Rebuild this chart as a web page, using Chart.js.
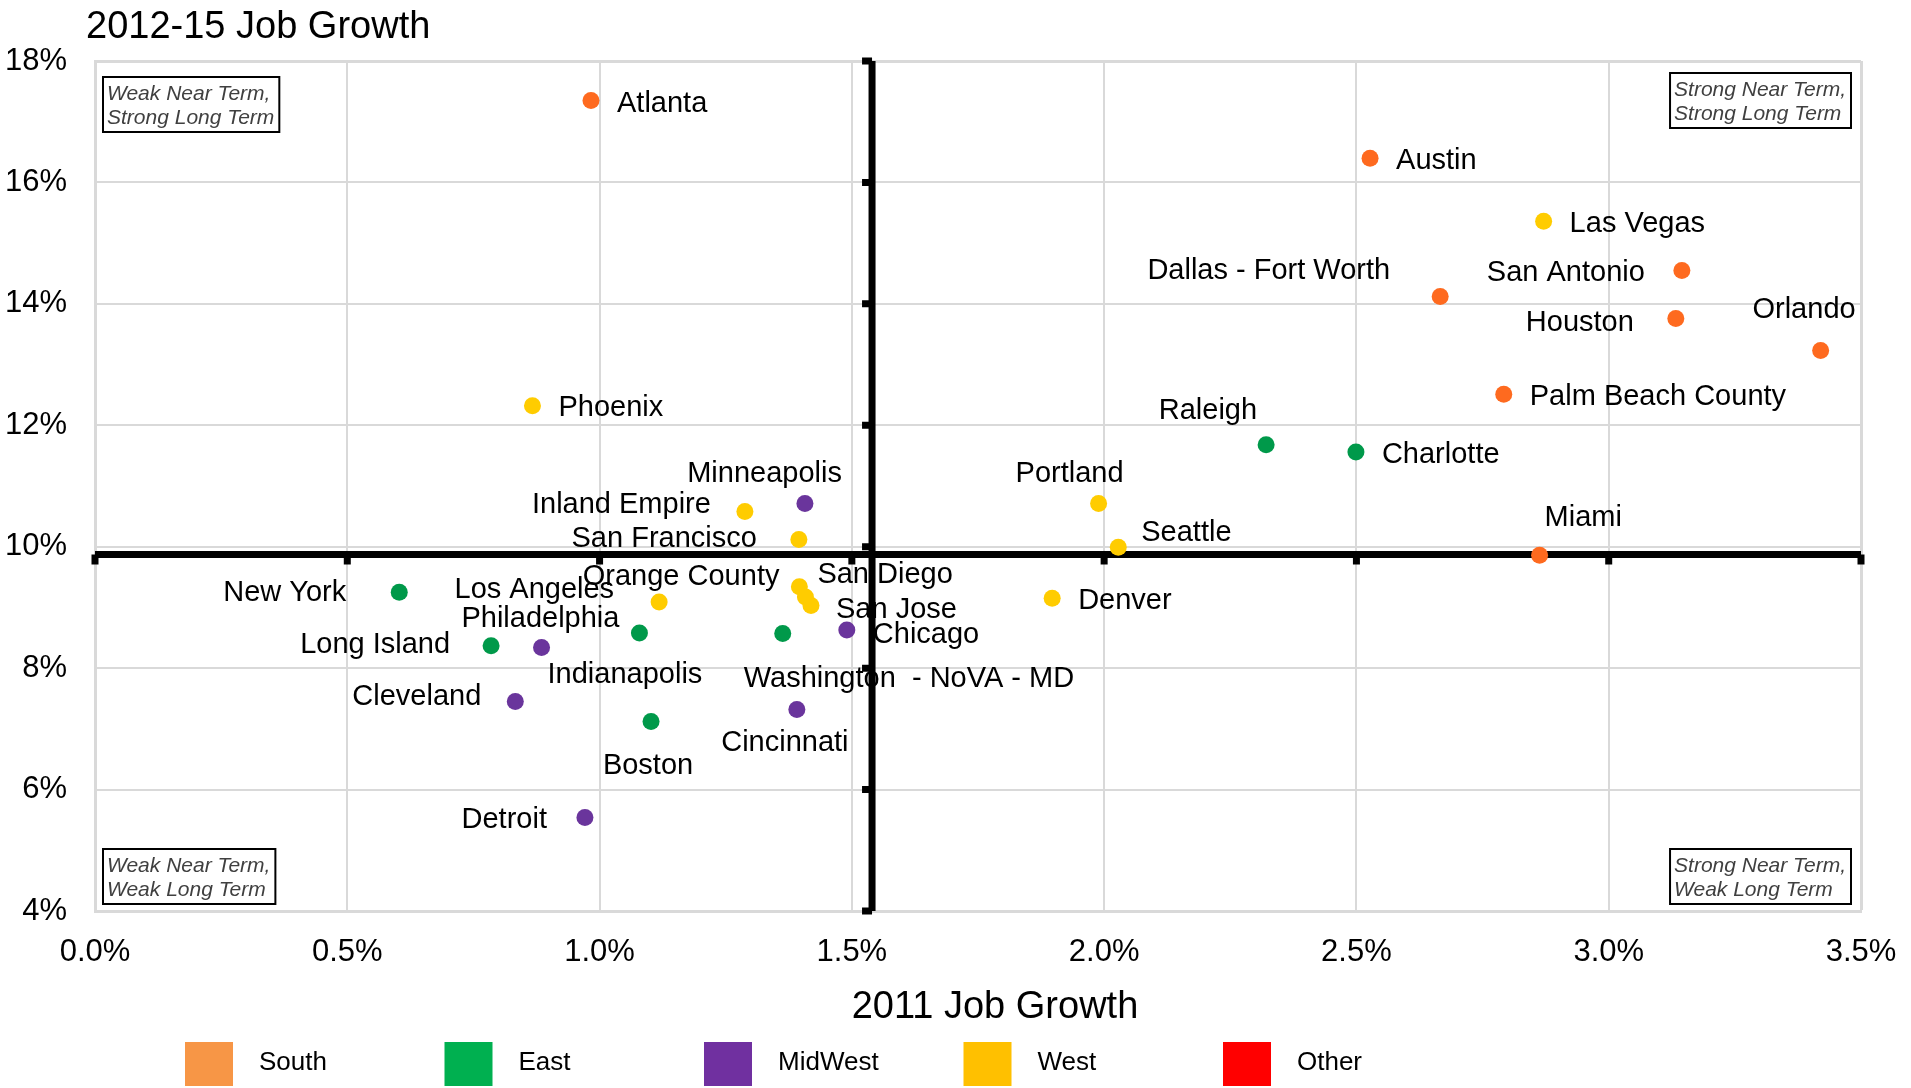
<!DOCTYPE html>
<html>
<head>
  <meta charset="utf-8">
  <title>Job Growth by Metro</title>
  <script src="https://cdn.jsdelivr.net/npm/chart.js"></script>
  <style>
    body { margin: 0; background: #fff; }
    canvas { display: block; }
  </style>
</head>
<body>
  <canvas id="growth" width="1911" height="1088"></canvas>

  <script>
    // metro areas, their region and job growth (in %)
    const cities = [
      'Atlanta', 'Austin', 'Las Vegas', 'San Antonio', 'Dallas - Fort Worth', 'Houston',
      'Orlando', 'Palm Beach County', 'Phoenix', 'Raleigh', 'Charlotte', 'Portland',
      'Minneapolis', 'Inland Empire', 'San Francisco', 'Seattle', 'Miami', 'New York',
      'Los Angeles', 'San Diego', 'Orange County', 'San Jose', 'Denver', 'Philadelphia',
      'Long Island', 'Indianapolis', 'Cleveland', 'Boston', 'Washington  - NoVA - MD',
      'Chicago', 'Cincinnati', 'Detroit'
    ];
    const cityRegion = [
      'South', 'South', 'West', 'South', 'South', 'South',
      'South', 'South', 'West', 'East', 'East', 'West',
      'MidWest', 'West', 'West', 'West', 'South', 'East',
      'West', 'West', 'West', 'West', 'West', 'East',
      'East', 'MidWest', 'MidWest', 'East', 'East',
      'MidWest', 'MidWest', 'MidWest'
    ];
    const growth2011 = [
      0.983, 2.527, 2.871, 3.145, 2.666, 3.133,
      3.420, 2.792, 0.867, 2.321, 2.499, 1.989,
      1.407, 1.288, 1.395, 2.028, 2.863, 0.603,
      1.118, 1.396, 1.408, 1.419, 1.897, 1.079,
      0.785, 0.885, 0.833, 1.102, 1.363,
      1.490, 1.391, 0.971
    ];
    const growth1215 = [
      17.35, 16.40, 15.36, 14.55, 14.12, 13.76,
      13.23, 12.51, 12.32, 11.68, 11.56, 10.71,
      10.71, 10.58, 10.12, 9.99, 9.86, 9.25,
      9.09, 9.34, 9.17, 9.03, 9.15, 8.58,
      8.37, 8.34, 7.45, 7.12, 8.57,
      8.63, 7.32, 5.54
    ];

    const regions = ['South', 'East', 'MidWest', 'West', 'Other'];
    const keyColors = ['#f79646', '#00b050', '#7030a0', '#ffc000', '#ff0000'];
    const dotColors = ['#fe6a1f', '#00994a', '#6a359c', '#ffcc00', '#ff0000'];

    // the bold quadrant axes cross here
    const crossAt = { x: 1.54, y: 9.87 };

    const quadrantNotes = [
      { corner: 'tl', lines: ['Weak Near Term,', 'Strong Long Term'] },
      { corner: 'tr', lines: ['Strong Near Term,', 'Strong Long Term'] },
      { corner: 'bl', lines: ['Weak Near Term,', 'Weak Long Term'] },
      { corner: 'br', lines: ['Strong Near Term,', 'Weak Long Term'] }
    ];

    // name placement next to each dot: [textAlign, dx, dy] in px, default is to the right
    const labelPlace = {
      'Atlanta': ['left', 26, 1],
      'San Antonio': ['right', -37, 0],
      'Dallas - Fort Worth': ['right', -50, -28],
      'Houston': ['right', -42, 2],
      'Orlando': ['right', 35, -43],
      'Raleigh': ['right', -9, -36],
      'Portland': ['right', 25, -32],
      'Minneapolis': ['right', 37, -32],
      'Inland Empire': ['right', -34, -9],
      'San Francisco': ['right', -42, -3],
      'Seattle': ['left', 23, -17],
      'Miami': ['left', 5, -40],
      'New York': ['right', -53, -2],
      'Los Angeles': ['right', -45, -14],
      'Orange County': ['right', -26, -23],
      'San Diego': ['left', 18, -14],
      'San Jose': ['left', 25, 2],
      'Philadelphia': ['right', -20, -16],
      'Long Island': ['right', -41, -3],
      'Indianapolis': ['left', 6, 25],
      'Cleveland': ['right', -34, -7],
      'Boston': ['center', -3, 42],
      'Washington  - NoVA - MD': ['left', -39, 43],
      'Chicago': ['left', 26, 3],
      'Cincinnati': ['center', -12, 31],
      'Detroit': ['right', -38, 0]
    };

    const FONT = '"Liberation Sans", Arial, sans-serif';

    const datasets = regions.map((r, ri) => {
      const idx = cities.map((c, i) => i).filter(i => cityRegion[i] === r);
      return {
        label: r,
        names: idx.map(i => cities[i]),
        data: idx.map(i => ({ x: growth2011[i], y: growth1215[i] })),
        backgroundColor: dotColors[ri],
        borderWidth: 0,
        pointRadius: 8.5,
        pointHoverRadius: 8.5
      };
    });

    const quadrantPlugin = {
      id: 'quadrant',
      beforeDatasetsDraw(chart) {
        const { ctx, chartArea: a, scales: { x, y } } = chart;
        ctx.save();

        // city names, vertically centred on the cap height
        ctx.font = '29px ' + FONT;
        ctx.fillStyle = '#000';
        ctx.textBaseline = 'alphabetic';
        chart.data.datasets.forEach((ds, di) => {
          chart.getDatasetMeta(di).data.forEach((pt, i) => {
            const name = ds.names[i];
            const [align, dx, dy] = labelPlace[name] || ['left', 26, 0];
            ctx.textAlign = align;
            ctx.fillText(name, pt.x + dx, pt.y + dy + 10.5);
          });
        });

        // bold axes through the middle, with tick marks
        const cx = x.getPixelForValue(crossAt.x);
        const cy = y.getPixelForValue(crossAt.y);
        ctx.strokeStyle = '#000';
        ctx.lineWidth = 7;
        ctx.beginPath();
        ctx.moveTo(a.left, cy);
        ctx.lineTo(a.right, cy);
        ctx.moveTo(cx, a.top);
        ctx.lineTo(cx, a.bottom);
        x.ticks.forEach(t => {
          const px = x.getPixelForValue(t.value);
          ctx.moveTo(px, cy);
          ctx.lineTo(px, cy + 10);
        });
        y.ticks.forEach(t => {
          const py = y.getPixelForValue(t.value);
          ctx.moveTo(cx, py);
          ctx.lineTo(cx - 10, py);
        });
        ctx.stroke();
        ctx.restore();
      },
      afterDraw(chart) {
        const { ctx, chartArea: a } = chart;
        ctx.save();

        // axis titles
        ctx.fillStyle = '#000';
        ctx.font = '38px ' + FONT;
        ctx.textAlign = 'left';
        ctx.textBaseline = 'alphabetic';
        ctx.fillText('2012-15 Job Growth', 86, 38);
        ctx.textAlign = 'center';
        ctx.fillText('2011 Job Growth', (a.left + a.right) / 2 + 17, 1018);

        // corner notes
        ctx.font = 'italic 21px ' + FONT;
        ctx.textAlign = 'left';
        quadrantNotes.forEach(n => {
          const w = Math.max(...n.lines.map(l => ctx.measureText(l).width)) + 9;
          const h = 55;
          const left = n.corner[1] === 'l' ? a.left + 8 : a.right - 10 - w;
          const top = n.corner[0] === 't' ? a.top + (n.corner[1] === 'l' ? 16 : 12) : a.bottom - 7 - h;
          ctx.fillStyle = '#fff';
          ctx.fillRect(left, top, w, h);
          ctx.strokeStyle = '#000';
          ctx.lineWidth = 2;
          ctx.strokeRect(left, top, w, h);
          ctx.fillStyle = '#404040';
          n.lines.forEach((l, i) => ctx.fillText(l, left + 4, top + 23 + i * 24));
        });

        // region key
        ctx.font = '26px ' + FONT;
        ctx.textBaseline = 'middle';
        regions.forEach((r, i) => {
          const kx = 185 + i * 259.5;
          ctx.fillStyle = keyColors[i];
          ctx.fillRect(kx, 1042, 48, 44);
          ctx.fillStyle = '#000';
          ctx.fillText(r, kx + 74, 1063);
        });
        ctx.restore();
      }
    };

    const tickFont = { family: FONT, size: 31 };

    new Chart(document.getElementById('growth'), {
      type: 'scatter',
      data: { datasets },
      options: {
        responsive: false,
        animation: false,
        layout: { padding: { top: 61, right: 50, left: 0, bottom: 0 } },
        plugins: {
          legend: { display: false },
          tooltip: { enabled: false }
        },
        scales: {
          x: {
            type: 'linear',
            min: 0,
            max: 3.5,
            ticks: {
              stepSize: 0.5,
              color: '#000',
              font: tickFont,
              padding: 23,
              maxRotation: 0,
              autoSkip: false,
              callback: v => v.toFixed(1) + '%'
            },
            grid: {
              color: '#d9d9d9',
              lineWidth: c => (c.tick && c.tick.value === 3.5 ? 3 : 2),
              drawTicks: false
            },
            border: { color: '#d9d9d9', width: 3 },
            afterFit(scale) {
              scale.height = 177;
              scale.paddingLeft = 0;
              scale.paddingRight = 0;
            }
          },
          y: {
            min: 4,
            max: 18,
            ticks: {
              stepSize: 2,
              color: '#000',
              font: tickFont,
              padding: 28,
              callback: v => v + '%'
            },
            grid: {
              color: '#d9d9d9',
              lineWidth: c => (c.tick && c.tick.value === 18 ? 3 : 2),
              drawTicks: false
            },
            border: { color: '#d9d9d9', width: 3 },
            afterFit(scale) {
              scale.width = 95;
              scale.paddingTop = 0;
              scale.paddingBottom = 0;
            }
          }
        }
      },
      plugins: [quadrantPlugin]
    });
  </script>
</body>
</html>
